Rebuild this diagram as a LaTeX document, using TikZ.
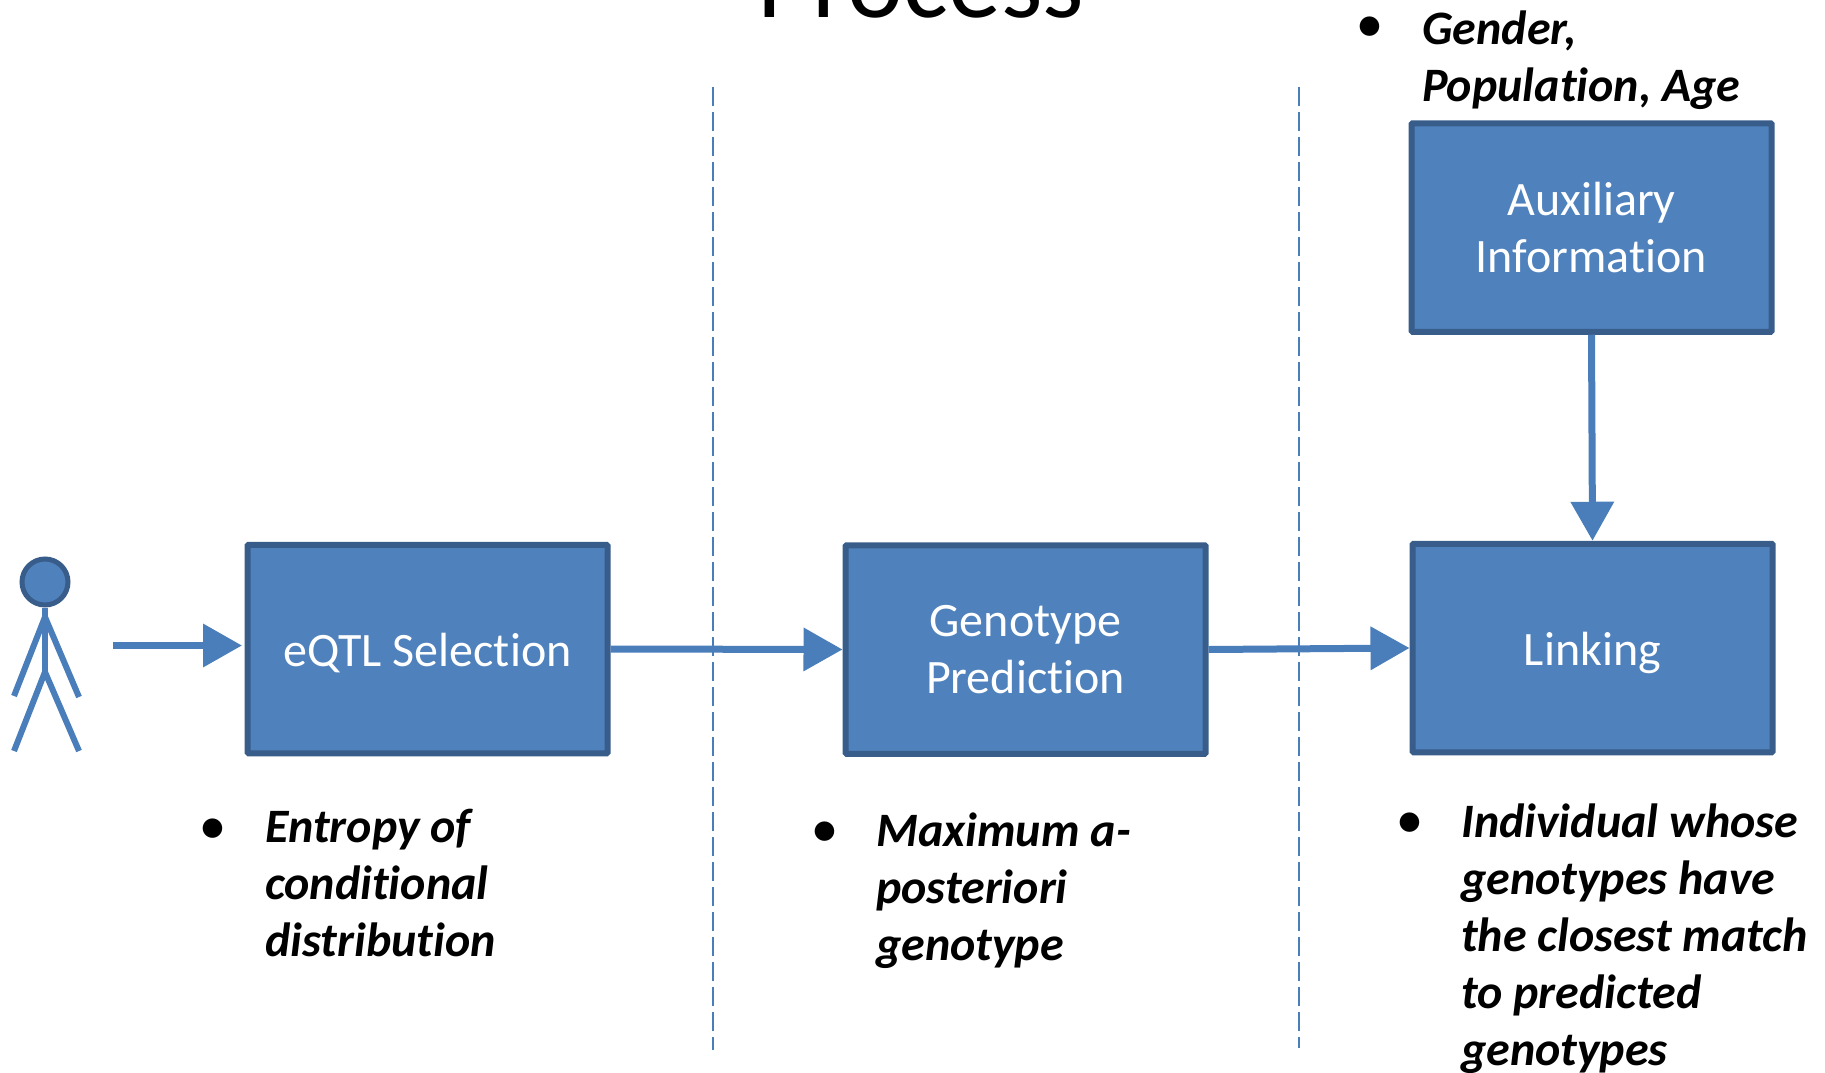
\documentclass[tikz,border=0pt]{standalone}
\usepackage{fontspec}
\setmainfont[Ligatures=NoCommon]{Carlito}
\usetikzlibrary{arrows.meta}
\definecolor{boxfill}{HTML}{4F81BD}
\definecolor{boxline}{HTML}{385D8A}
\definecolor{arrowc}{HTML}{4A7EBB}
\tikzset{
  x=1pt,y=-1pt,
  procbox/.style={draw=boxline,fill=boxfill,line width=6pt,rounded corners=1pt,minimum width=360pt,minimum height=208.5pt,inner sep=0pt,text=white,align=center,font=\fontsize{48}{56.5}\selectfont},
  flow/.style={draw=arrowc,line width=7pt,-{Triangle[length=39pt,width=42pt]},shorten >=0pt},
  figure/.style={draw=arrowc,line width=6pt},
  divider/.style={draw=arrowc,line width=2pt,dash pattern=on 19pt off 6pt},
  note/.style={anchor=base west,inner sep=0pt,align=left,font=\fontsize{48}{57}\selectfont\bfseries\itshape},
  dotmark/.style={anchor=base,inner sep=0pt,font=\fontsize{46}{57}\selectfont\bfseries},
}
\begin{document}
\begin{tikzpicture}
\useasboundingbox (0,0) rectangle (1825,1073);
\node[anchor=base,inner sep=0pt,font=\fontsize{106}{110}\selectfont] (title) at (921,18) {Process};
% dividers
\coordinate (d1a) at (713,87); \coordinate (d1b) at (713,1050);
\coordinate (d2a) at (1298.5,87); \coordinate (d2b) at (1298.5,1048);
\draw[divider] (d1a) -- (d1b);
\draw[divider] (d2a) -- (d2b);
% boxes
\node[procbox] (eqtl) at (427.5,649) {\raisebox{-17pt}[0pt][0pt]{eQTL Selection}};
\node[procbox] (geno) at (1025.5,649.5) {Genotype\\Prediction};
\node[procbox] (link) at (1592.5,648) {\raisebox{-17pt}[0pt][0pt]{Linking}};
\node[procbox] (aux) at (1591.5,227.5) {Auxiliary\\Information};
% person
\node[circle,draw=boxline,fill=boxfill,line width=5pt,minimum size=46pt,inner sep=0pt] (head) at (45,582) {};
\coordinate (hip) at (45,672);
\coordinate (neck) at (45,617);
\draw[figure] (head.south) -- (hip);
\coordinate (handl) at (14,696); \coordinate (handr) at (79,697);
\coordinate (footl) at (14,751); \coordinate (footr) at (79,751);
\draw[figure] (handl) -- (neck) -- (handr);
\draw[figure] (footl) -- (hip) -- (footr);
% connectors
\coordinate (start) at (113,645.5);
\draw[flow] (start) -- (242,645.5);
\draw[flow] (eqtl.east) -- (geno.west);
\draw[flow] (geno.east) -- (link.west);
\draw[flow] (aux.south) -- (link.north);
% notes
\node[dotmark] (b1) at (213,841) {•};
\node[note] (n1) at (265,956.5) {Entropy of\\conditional\\distribution};
\node[dotmark] (b2) at (825,844) {•};
\node[note] (n2) at (876,960) {Maximum a-\\posteriori\\genotype};
\node[dotmark] (b3) at (1410,835) {•};
\node[note] (n3) at (1461,1065.5) {Individual whose\\genotypes have\\the closest match\\to predicted\\genotypes};
\node[dotmark] (b4) at (1370,40) {•};
\node[note] (n4) at (1422,101) {Gender,\\Population, Age};
\end{tikzpicture}
\end{document}
